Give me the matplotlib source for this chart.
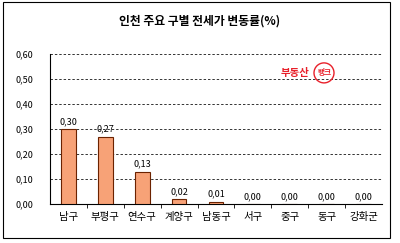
import matplotlib.pyplot as plt
from matplotlib.patches import Ellipse

plt.rcParams['font.family'] = ['Noto Sans CJK KR', 'DejaVu Sans']

districts = ['남구', '부평구', '연수구', '계양구', '남동구', '서구', '중구', '동구', '강화군']
rates = [0.30, 0.27, 0.13, 0.02, 0.01, 0.00, 0.00, 0.00, 0.00]
yticks = [0.0, 0.1, 0.2, 0.3, 0.4, 0.5, 0.6]

fig = plt.figure(figsize=(4, 2.43), dpi=100)
# outer frame
fig.patches.append(plt.Rectangle((0.008, 0.02), 0.968, 0.97, transform=fig.transFigure,
                                 fill=False, edgecolor='black', linewidth=0.8))
ax = fig.add_axes([0.125, 0.16, 0.83, 0.618])
x = list(range(len(districts)))
ax.bar(x, rates, width=0.4, color='#F7A277', edgecolor='#6b2200', linewidth=0.8, zorder=3)
for xi, v in zip(x, rates):
    ax.text(xi, v + 0.012, f'{v:.2f}'.replace('.', ','), ha='center', va='bottom', fontsize=6.5)

ax.set_xlim(-0.5, len(districts) - 0.5)
ax.set_ylim(0, 0.6)
ax.set_yticks(yticks)
ax.set_yticklabels([f'{t:.2f}'.replace('.', ',') for t in yticks], fontsize=6.5)
ax.set_xticks(x)
ax.set_xticklabels(districts, fontsize=7.5)
ax.tick_params(axis='x', length=0, pad=6)
ax.tick_params(axis='y', length=0, pad=12)
ax.grid(axis='y', linestyle=(0, (2.5, 2)), color='#333333', linewidth=0.7)
ax.spines['top'].set_visible(False)
ax.spines['right'].set_visible(False)
ax.spines['left'].set_linewidth(0.8)
ax.spines['bottom'].set_linewidth(0.8)
# minor ticks between categories on the x axis
ax.set_xticks([i + 0.5 for i in x[:-1]], minor=True)
ax.tick_params(axis='x', which='minor', length=3, direction='out')

fig.text(0.5, 0.915, '인천 주요 구별 전세가 변동률(%)', ha='center', va='center',
         fontsize=8.5, fontweight='bold')

# logo
fig.text(0.738, 0.70, '부동산', ha='center', va='center', fontsize=7.5, fontweight='bold', color='#e8202a')
fig.patches.append(Ellipse((0.81, 0.70), 0.05, 0.05 * 400 / 243, transform=fig.transFigure,
                           fill=False, edgecolor='#e8202a', linewidth=1.0))
fig.text(0.81, 0.70, '뱅크', ha='center', va='center', fontsize=5.5, fontweight='bold', color='#e8202a')

fig.savefig('out.png', dpi=100)
